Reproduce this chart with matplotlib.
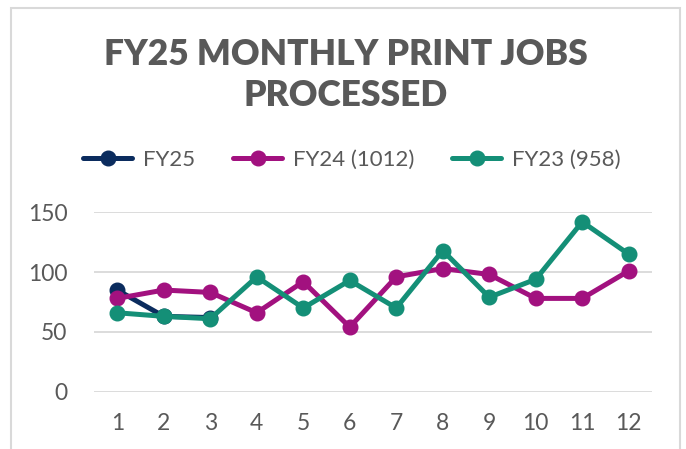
import matplotlib.pyplot as plt
from matplotlib.patches import Rectangle

plt.rcParams['font.family'] = ['Lato', 'DejaVu Sans']

months = list(range(1, 13))
fy25 = [85, 63, 62]
fy24 = [78, 85, 83, 66, 92, 54, 96, 103, 98, 78, 78, 101]
fy23 = [66, 63, 61, 96, 70, 93, 70, 118, 79, 94, 142, 115]
labels = ['FY25', 'FY24 (1012)', 'FY23 (958)']
colors = ['#0B2C5E', '#A2117F', '#148F77']
title = 'FY25 MONTHLY PRINT JOBS\nPROCESSED'

grey = '#595959'

fig = plt.figure(figsize=(6.86, 4.49), dpi=100)
fig.patches.append(Rectangle((11/686, -0.1), 669/686, 1.1 - 8/449, transform=fig.transFigure,
                             fill=False, edgecolor='#D9D9D9', linewidth=1.5))

ax = fig.add_axes([94/686, 57.3/449, 558/686, 179.4/449])
series = [months[:len(fy25)], fy25], [months, fy24], [months, fy23]
for (xs, ys), lab, c in zip(series, labels, colors):
    ax.plot(xs, ys, color=c, lw=3.6, marker='o', markersize=10.5, label=lab,
            solid_capstyle='round', clip_on=False)

ax.set_xlim(0.5, 12.5)
ax.set_ylim(0, 150)
ax.set_yticks([0, 50, 100, 150])
ax.set_xticks(months)
ax.grid(axis='y', color='#D9D9D9', lw=1.3)
ax.set_axisbelow(True)
for s in ax.spines.values():
    s.set_visible(False)
ax.tick_params(length=0, labelsize=16.5, labelcolor=grey)
ax.tick_params(axis='y', pad=19)
ax.tick_params(axis='x', pad=15)

fig.text(346/686, 1 - 75/449, title, ha='center', va='center', fontsize=25.5,
         fontweight='heavy', color=grey, linespacing=1.3)

fig.legend(loc='center', bbox_to_anchor=(352/686, 1 - 160/449), ncol=3, frameon=False,
           fontsize=16, labelcolor=grey, handlelength=2.2, handletextpad=0.5,
           columnspacing=1.7)

fig.savefig('out.png', dpi=100)
